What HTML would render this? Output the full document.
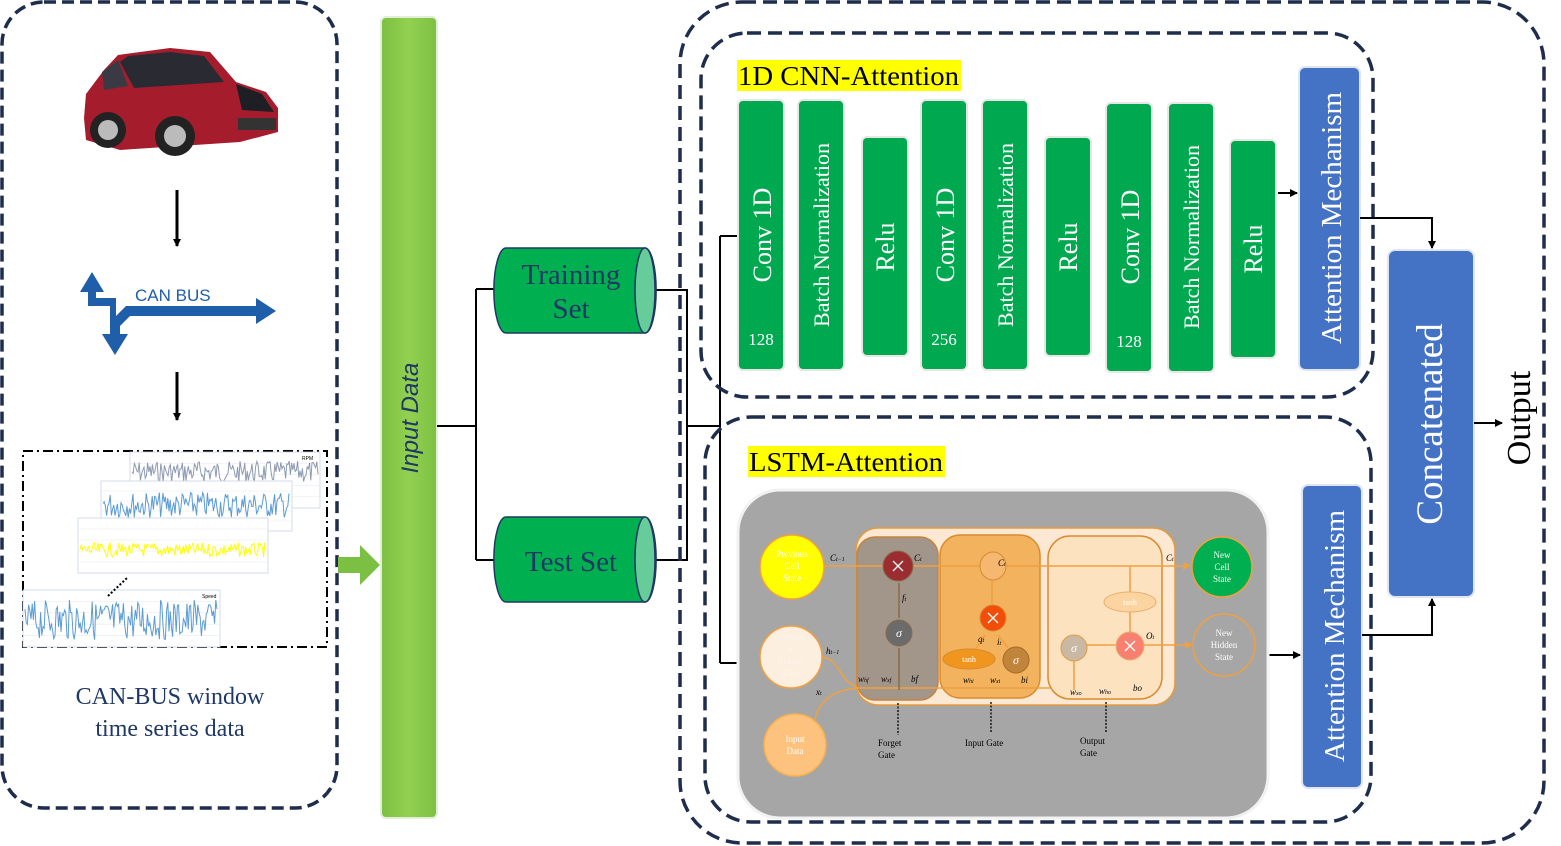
<!DOCTYPE html>
<html><head><meta charset="utf-8"><style>
html,body{margin:0;padding:0;background:#fff;}
svg{display:block;}
.sf{font-family:"Liberation Serif",serif;}
.ss{font-family:"Liberation Sans",sans-serif;}
</style></head><body>
<svg id="s" width="1561" height="846" viewBox="0 0 1561 846" xmlns="http://www.w3.org/2000/svg">
<defs>
<marker id="ar" markerWidth="8" markerHeight="8" refX="7" refY="4" orient="auto" markerUnits="userSpaceOnUse"><path d="M0,0 L8,4 L0,8 z" fill="#000"/></marker>
<marker id="ao" markerWidth="8" markerHeight="8" refX="7" refY="4" orient="auto" markerUnits="userSpaceOnUse"><path d="M0,0 L8,4 L0,8 z" fill="#f0a040"/></marker>
<linearGradient id="gin" x1="0" x2="1"><stop offset="0" stop-color="#7cc043"/><stop offset="0.5" stop-color="#92d050"/><stop offset="1" stop-color="#7cc043"/></linearGradient>
</defs>

<!-- left panel -->
<rect x="2" y="2" width="335" height="806" rx="42" fill="none" stroke="#1f2d4d" stroke-width="3.5" stroke-dasharray="12,6"/>
<!-- car -->
<g>
<path d="M84,118 L86,94 L104,70 L118,55 L170,48 L210,52 L236,82 L266,92 L278,108 L278,132 L240,142 L120,150 L86,140 z" fill="#a51d2d"/>
<path d="M120,62 L128,56 L170,52 L204,56 L224,82 L134,88 z" fill="#2a2a33"/>
<path d="M236,84 L262,94 L274,112 L242,110 z" fill="#1e1e25"/>
<path d="M102,72 L118,60 L128,86 L104,90 z" fill="#3a3a44"/>
<circle cx="108" cy="130" r="18" fill="#222"/><circle cx="108" cy="130" r="10" fill="#bbb"/>
<circle cx="175" cy="136" r="20" fill="#222"/><circle cx="175" cy="136" r="11" fill="#bbb"/>
<rect x="238" y="118" width="38" height="12" fill="#333"/>
</g>
<line x1="177" y1="190" x2="177" y2="246" stroke="#000" stroke-width="3" marker-end="url(#ar)"/>
<!-- CAN BUS icon -->
<g fill="#1f5ea8">
<path d="M88,292 L80,292 L92,272 L104,292 L96,292 L96,298 L116,298 L116,316 L126,306 L256,306 L256,298 L276,311 L256,324 L256,316 L130,316 L120,326 L120,334 L128,334 L115,355 L102,334 L110,334 L110,306 L88,306 Z"/>
</g>
<text x="135" y="301" class="ss" font-size="17" fill="#1f5ea8">CAN BUS</text>
<line x1="177" y1="372" x2="177" y2="420" stroke="#000" stroke-width="3" marker-end="url(#ar)"/>
<!-- time series box -->
<rect x="23" y="451" width="304" height="196" fill="none" stroke="#000" stroke-width="2" stroke-dasharray="10,4,2,4"/>
<g id="charts"></g>
<text x="302" y="460" class="ss" font-size="5" fill="#000">RPM</text>
<text x="202" y="598" class="ss" font-size="5" fill="#000">Speed</text>
<line x1="108" y1="596" x2="127" y2="578" stroke="#000" stroke-width="2" stroke-dasharray="2,2"/>
<text x="170" y="704" class="sf" font-size="24" fill="#1f3864" text-anchor="middle">CAN-BUS window</text>
<text x="170" y="736" class="sf" font-size="24" fill="#1f3864" text-anchor="middle">time series data</text>

<!-- green arrow -->
<path d="M338,557 L360,557 L360,545 L380,565 L360,585 L360,573 L338,573 z" fill="#7cc043"/>
<!-- input data bar -->
<rect x="381" y="17" width="56" height="801" rx="5" fill="url(#gin)" stroke="#e2eed8" stroke-width="2"/>
<text transform="translate(418,418) rotate(-90)" class="ss" font-size="24" font-style="italic" fill="#1f3864" text-anchor="middle">Input Data</text>

<!-- connectors middle -->
<g stroke="#000" stroke-width="2" fill="none">
<path d="M437,426 H476 M476,289 V560 M476,289 H495 M476,560 H495"/>
<path d="M652,290 H687 V560 H655 M687,426 H720 M720,236 V663 M720,236 H738 M720,663 H740"/>
</g>
<!-- cylinders -->
<g stroke="#1f3864" stroke-width="1.5">
<path d="M506,248 H645 A11,42 0 0 1 645,333 H506 A12,42 0 0 1 506,248 z" fill="#00b050"/>
<ellipse cx="645" cy="290.5" rx="10" ry="42.5" fill="#66cc99"/>
<path d="M506,517 H645 A11,42 0 0 1 645,602 H506 A12,42 0 0 1 506,517 z" fill="#00b050"/>
<ellipse cx="645" cy="559.5" rx="10" ry="42.5" fill="#66cc99"/>
</g>
<text x="571" y="284" class="sf" font-size="29" fill="#1f3864" text-anchor="middle">Training</text>
<text x="571" y="318" class="sf" font-size="29" fill="#1f3864" text-anchor="middle">Set</text>
<text x="571" y="571" class="sf" font-size="29" fill="#1f3864" text-anchor="middle">Test Set</text>

<!-- outer right dashed boxes -->
<rect x="680" y="2" width="864" height="841" rx="62" fill="none" stroke="#1f2d4d" stroke-width="3.5" stroke-dasharray="14,7"/>
<rect x="701" y="33" width="672" height="364" rx="46" fill="none" stroke="#1f2d4d" stroke-width="3.5" stroke-dasharray="14,7"/>
<rect x="705" y="417" width="666" height="405" rx="46" fill="none" stroke="#1f2d4d" stroke-width="3.5" stroke-dasharray="14,7"/>
<!-- titles -->
<rect x="737" y="60" width="224" height="31" fill="#ffff00"/>
<text x="738" y="85" class="sf" font-size="27" fill="#000" textLength="221" lengthAdjust="spacingAndGlyphs">1D CNN-Attention</text>
<rect x="748" y="446" width="197" height="31" fill="#ffff00"/>
<text x="749" y="471" class="sf" font-size="27" fill="#000" textLength="194" lengthAdjust="spacingAndGlyphs">LSTM-Attention</text>

<!-- CNN bars -->
<g fill="#00a94f" stroke="#e6e6e6" stroke-width="2">
<rect x="738" y="100" width="46" height="270" rx="5"/>
<rect x="798" y="100" width="46" height="270" rx="5"/>
<rect x="862" y="137" width="46" height="219" rx="5"/>
<rect x="921" y="100" width="46" height="270" rx="5"/>
<rect x="982" y="100" width="46" height="270" rx="5"/>
<rect x="1045" y="137" width="46" height="219" rx="5"/>
<rect x="1106" y="103" width="46" height="269" rx="5"/>
<rect x="1168" y="103" width="46" height="269" rx="5"/>
<rect x="1230" y="140" width="46" height="218" rx="5"/>
</g>
<g class="sf" fill="#fff" text-anchor="middle">
<text transform="translate(771,235) rotate(-90)" font-size="26">Conv 1D</text>
<text transform="translate(829,235) rotate(-90)" font-size="22">Batch Normalization</text>
<text transform="translate(894,247) rotate(-90)" font-size="26">Relu</text>
<text transform="translate(954,235) rotate(-90)" font-size="26">Conv 1D</text>
<text transform="translate(1013,235) rotate(-90)" font-size="22">Batch Normalization</text>
<text transform="translate(1077,247) rotate(-90)" font-size="26">Relu</text>
<text transform="translate(1139,237) rotate(-90)" font-size="26">Conv 1D</text>
<text transform="translate(1199,237) rotate(-90)" font-size="22">Batch Normalization</text>
<text transform="translate(1262,249) rotate(-90)" font-size="26">Relu</text>
<text x="761" y="345" font-size="17">128</text>
<text x="944" y="345" font-size="17">256</text>
<text x="1129" y="347" font-size="17">128</text>
</g>
<!-- attention / concat -->
<g fill="#4472c4" stroke="#dfe6f2" stroke-width="2">
<rect x="1299" y="67" width="61" height="303" rx="6"/>
<rect x="1302" y="485" width="60" height="303" rx="6"/>
<rect x="1388" y="250" width="86" height="347" rx="7"/>
</g>
<g class="sf" fill="#fff" text-anchor="middle">
<text transform="translate(1341,218) rotate(-90)" font-size="29">Attention Mechanism</text>
<text transform="translate(1344,636) rotate(-90)" font-size="29">Attention Mechanism</text>
<text transform="translate(1442,424) rotate(-90)" font-size="37">Concatenated</text>
</g>
<text transform="translate(1530,418) rotate(-90)" class="sf" font-size="34" fill="#000" text-anchor="middle">Output</text>
<g stroke="#000" stroke-width="2" fill="none">
<line x1="1278" y1="193" x2="1297" y2="193" marker-end="url(#ar)"/>
<path d="M1360,218 H1432 V248" marker-end="url(#ar)"/>
<path d="M1362,635 H1432 V599" marker-end="url(#ar)"/>
<line x1="1474" y1="423" x2="1502" y2="423" marker-end="url(#ar)"/>
<line x1="1268" y1="655" x2="1300" y2="655" marker-end="url(#ar)"/>
</g>

<!-- LSTM cell -->
<rect x="738" y="490" width="530" height="328" rx="42" fill="#a6a6a6" stroke="#f2f2f2" stroke-width="3"/>
<rect x="856" y="528" width="319" height="177" rx="22" fill="#fde9d3" stroke="#e39b3f" stroke-width="1.5"/>
<rect x="857" y="537" width="81" height="163" rx="18" fill="#a2968a" stroke="#c8833a" stroke-width="1.5"/>
<rect x="940" y="535" width="100" height="163" rx="20" fill="#f2b25e" stroke="#d98b2e" stroke-width="1.5"/>
<rect x="1048" y="536" width="114" height="163" rx="22" fill="#fde2c0" stroke="#d98b2e" stroke-width="1.5"/>
<g stroke="#f0a040" stroke-width="1.5" fill="none">
<line x1="824" y1="566" x2="1190" y2="566" marker-end="url(#ao)"/>
<line x1="1130" y1="566" x2="1130" y2="600"/>
<line x1="1130" y1="612" x2="1130" y2="636"/>
<line x1="1086" y1="645" x2="1118" y2="645"/>
<line x1="1142" y1="645" x2="1192" y2="645" marker-end="url(#ao)"/>
<line x1="1074" y1="660" x2="1074" y2="690"/>
<line x1="858" y1="688" x2="1050" y2="688"/>
<path d="M820,656 C842,660 838,680 858,688"/>
<path d="M815,720 C818,700 835,690 858,688"/>
<line x1="992" y1="580" x2="992" y2="604"/>
<path d="M985,635 L975,650 M998,635 L1008,648"/>
</g>
<g stroke="#8a6a48" stroke-width="1.5">
<line x1="899" y1="583" x2="899" y2="618"/>
<line x1="899" y1="648" x2="899" y2="690"/>
</g>
<circle cx="792" cy="567" r="32" fill="#ffff00" stroke="#f0a040" stroke-width="1.5"/>
<circle cx="791" cy="657" r="31" fill="#fdefe0" stroke="#f0a040" stroke-width="1.5"/>
<circle cx="795" cy="745" r="31" fill="#fcc27e" stroke="#f7b050" stroke-width="1.5"/>
<circle cx="1222" cy="567" r="30" fill="#00b050" stroke="#f0a040" stroke-width="1.5"/>
<circle cx="1224" cy="645" r="31" fill="#a6a6a6" stroke="#f0a040" stroke-width="1.5"/>
<circle cx="898" cy="566" r="15" fill="#9b2d30" stroke="#8a6a48"/>
<circle cx="899" cy="633" r="13" fill="#6b6b6b" stroke="#8a6a48"/>
<ellipse cx="993" cy="566" rx="13" ry="14" fill="#f6b870" stroke="#d98b2e"/>
<circle cx="993" cy="618" r="13" fill="#f24e0a" stroke="#d98b2e"/>
<ellipse cx="969" cy="659" rx="26" ry="10" fill="#f0961e" stroke="#d98b2e"/>
<circle cx="1016" cy="660" r="13" fill="#c0843a" stroke="#a86a2a"/>
<circle cx="1074" cy="648" r="13" fill="#c8b8a4" stroke="#e39b3f"/>
<ellipse cx="1130" cy="602" rx="26" ry="10" fill="#fcd4a0" stroke="#e9b070"/>
<circle cx="1130" cy="646" r="14" fill="#f88070" stroke="#e9b070"/>
<g stroke="#fff" stroke-width="1.3">
<path d="M893,561 L903,571 M903,561 L893,571"/><path d="M988,613 L998,623 M998,613 L988,623"/><path d="M1125,641 L1135,651 M1135,641 L1125,651"/>
</g>
<g class="sf" text-anchor="middle" font-size="9" fill="#fff">
<text x="792" y="557">Previous</text><text x="792" y="569">Cell</text><text x="792" y="581">State</text>
<text x="790" y="640" fill="#fcf4ea">Previou</text><text x="790" y="652" fill="#fcf4ea">s</text><text x="790" y="664" fill="#fcf4ea">Hidden</text><text x="790" y="676" fill="#fcf4ea">State</text>
<text x="795" y="742">Input</text><text x="795" y="754">Data</text>
<text x="1222" y="558">New</text><text x="1222" y="570">Cell</text><text x="1222" y="582">State</text>
<text x="1224" y="636">New</text><text x="1224" y="648">Hidden</text><text x="1224" y="660">State</text>
<text x="899" y="637" font-size="12" font-style="italic">σ</text>
<text x="1016" y="664" font-size="12" font-style="italic">σ</text>
<text x="1074" y="652" font-size="12" font-style="italic">σ</text>
<text x="969" y="662" font-size="8">tanh</text>
<text x="1130" y="605" font-size="8">tanh</text>
</g>
<g class="sf" font-size="9" font-style="italic" fill="#000">
<text x="830" y="561">C<tspan font-size="6">t−1</tspan></text>
<text x="914" y="561">C<tspan font-size="6">t</tspan></text>
<text x="902" y="601">f<tspan font-size="6">t</tspan></text>
<text x="998" y="566">C<tspan font-size="6">t</tspan></text>
<text x="978" y="642">q<tspan font-size="6">t</tspan></text>
<text x="997" y="645">i<tspan font-size="6">t</tspan></text>
<text x="1146" y="639">O<tspan font-size="6">t</tspan></text>
<text x="1166" y="561">C<tspan font-size="6">t</tspan></text>
<text x="826" y="654">h<tspan font-size="6">t−1</tspan></text>
<text x="816" y="695">x<tspan font-size="6">t</tspan></text>
<text x="858" y="682">w<tspan font-size="6">hf</tspan></text>
<text x="881" y="682">w<tspan font-size="6">xf</tspan></text>
<text x="911" y="682">bf</text>
<text x="963" y="683">w<tspan font-size="6">hi</tspan></text>
<text x="990" y="683">w<tspan font-size="6">xi</tspan></text>
<text x="1021" y="683">bi</text>
<text x="1070" y="695">w<tspan font-size="6">xo</tspan></text>
<text x="1099" y="694">w<tspan font-size="6">ho</tspan></text>
<text x="1133" y="691">bo</text>
</g>
<g stroke="#000" stroke-width="1.3" stroke-dasharray="2,1.5">
<line x1="898" y1="703" x2="898" y2="735"/><line x1="991" y1="702" x2="991" y2="733"/><line x1="1106" y1="702" x2="1106" y2="733"/>
</g>
<g class="sf" font-size="9" fill="#000">
<text x="878" y="746">Forget</text><text x="878" y="758">Gate</text>
<text x="965" y="746">Input Gate</text>
<text x="1080" y="744">Output</text><text x="1080" y="756">Gate</text>
</g>
</svg>
<script>
(function(){
var s=7;function r(){s=(s*9301+49297)%233280;return s/233280;}
var g=document.getElementById('charts'),ns='http://www.w3.org/2000/svg';
function chart(x,y,w,h,ly,amp,col){
 var b=document.createElementNS(ns,'rect');b.setAttribute('x',x);b.setAttribute('y',y);b.setAttribute('width',w);b.setAttribute('height',h);b.setAttribute('fill','#fff');b.setAttribute('stroke','#c9d3e6');b.setAttribute('stroke-width','0.8');g.appendChild(b);
 for(var i=1;i<5;i++){var l=document.createElementNS(ns,'line');l.setAttribute('x1',x);l.setAttribute('x2',x+w);l.setAttribute('y1',y+h*i/5);l.setAttribute('y2',y+h*i/5);l.setAttribute('stroke','#e3e8f0');l.setAttribute('stroke-width','0.5');g.appendChild(l);}
 var p='';for(var i=0;i<=w-4;i+=1.2){p+=(x+2+i).toFixed(1)+','+(ly+(r()-0.5)*amp).toFixed(1)+' ';}
 var pl=document.createElementNS(ns,'polyline');pl.setAttribute('points',p);pl.setAttribute('fill','none');pl.setAttribute('stroke',col);pl.setAttribute('stroke-width','1');g.appendChild(pl);
}
chart(130,452,190,56,472,22,'#8e9ab0');
chart(101,481,191,50,505,26,'#5b9bd5');
chart(78,518,190,55,550,14,'#ffff00');
chart(23,590,197,57,620,40,'#5b9bd5');
})();
</script>
</body></html>
